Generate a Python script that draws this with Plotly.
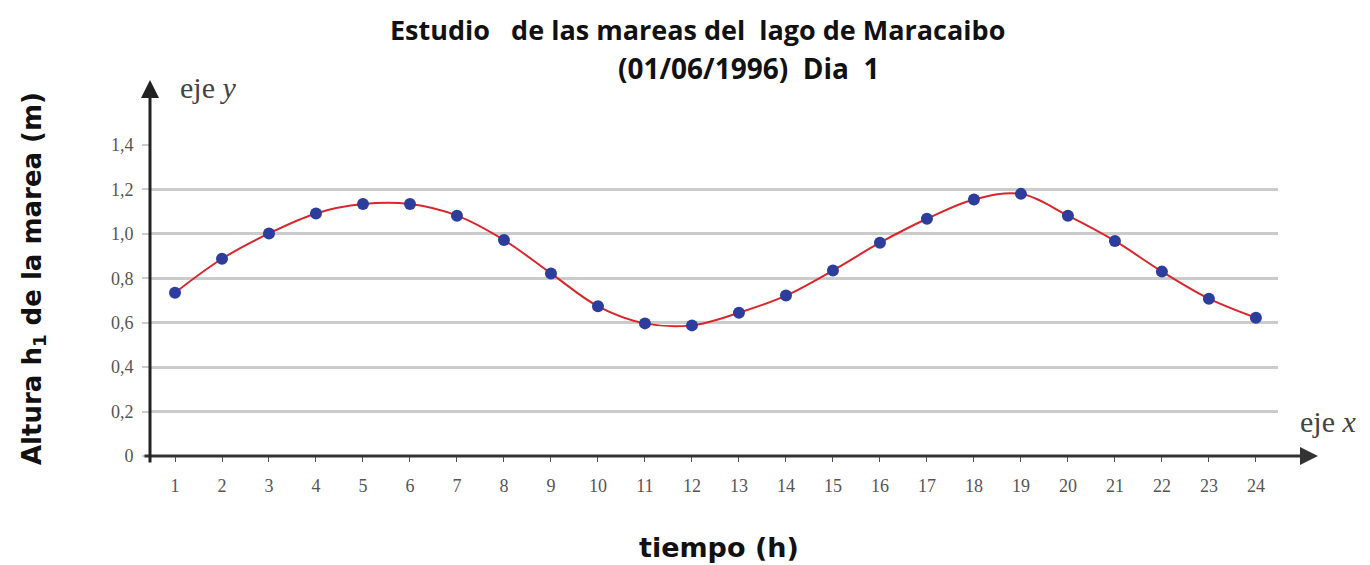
import plotly.graph_objects as go

horas = list(range(1, 25))
altura = [0.735, 0.888, 1.002, 1.092, 1.134, 1.134, 1.082, 0.972, 0.822, 0.674,
          0.597, 0.588, 0.645, 0.722, 0.835, 0.960, 1.068, 1.155, 1.180, 1.082,
          0.968, 0.830, 0.708, 0.622]
y_ticks = [0, 0.2, 0.4, 0.6, 0.8, 1.0, 1.2, 1.4]
y_tick_labels = ["0", "0,2", "0,4", "0,6", "0,8", "1,0", "1,2", "1,4"]

titulo_1 = "Estudio\u00a0\u00a0 de las mareas del\u00a0 lago de Maracaibo"
titulo_2 = "(01/06/1996)\u00a0 Dia\u00a0 1"
label_y = "Altura h<sub>1</sub> de la marea (m)"
label_x = "tiempo (h)"

W, H = 1370, 565
L, R, T, B = 150, 92, 145, 109

fig = go.Figure()
fig.add_trace(go.Scatter(
    x=horas, y=altura, mode="lines",
    line=dict(color="#d8262c", width=2, shape="spline", smoothing=1),
    hoverinfo="skip", showlegend=False))
fig.add_trace(go.Scatter(
    x=horas, y=altura, mode="markers",
    marker=dict(color="#2c3d9c", size=12),
    showlegend=False, cliponaxis=False))

serif = "Liberation Serif, serif"
sans_b = "DejaVu Sans, sans-serif"
title_font = "Open Sans, sans-serif"

fig.update_layout(
    width=W, height=H,
    margin=dict(l=L, r=R, t=T, b=B),
    plot_bgcolor="white", paper_bgcolor="white",
    separators=",.",
    xaxis=dict(range=[0.468, 24.47], tickvals=horas, showgrid=False,
               zeroline=False, showline=False, ticks="outside", ticklen=5,
               tickwidth=1, tickcolor="#555",
               tickfont=dict(family=serif, size=18, color="#555"),
               ticklabelstandoff=8, fixedrange=True),
    yaxis=dict(range=[0, 1.4], tickvals=y_ticks, ticktext=y_tick_labels,
               showgrid=True, gridcolor="#cbcbcb", gridwidth=2.5,
               zeroline=False, showline=False, ticks="outside", ticklen=7,
               tickwidth=2, tickcolor="#cbcbcb",
               tickfont=dict(family=serif, size=18, color="#555"),
               ticklabelstandoff=5, fixedrange=True),
)

pw, ph = W - L - R, H - T - B
ann = []
# title
ann.append(dict(text="<b>" + titulo_1 + "</b>", xref="paper", yref="paper",
                x=(697 - L) / pw, y=1 + (T - 30) / ph,
                showarrow=False, xanchor="center", yanchor="middle",
                font=dict(family=title_font, size=27, color="#111")))
ann.append(dict(text="<b>" + titulo_2 + "</b>", xref="paper", yref="paper",
                x=(748 - L) / pw, y=1 + (T - 68) / ph,
                showarrow=False, xanchor="center", yanchor="middle",
                font=dict(family=title_font, size=28, color="#111")))
# axis arrows
ann.append(dict(text="", xref="paper", yref="y", x=(1318 - L) / pw, y=0,
                ax=-(1318 - 143), ay=0, showarrow=True, arrowhead=2,
                arrowsize=1.2, arrowwidth=3, arrowcolor="#333"))
ann.append(dict(text="", xref="paper", yref="paper", x=0,
                y=1 + (T - 80) / ph,
                ax=0, ay=(464 - 80), showarrow=True, arrowhead=2,
                arrowsize=1.2, arrowwidth=3, arrowcolor="#222"))
# axis names
ann.append(dict(text="eje <i>y</i>", xref="paper", yref="paper",
                x=(178 - L) / pw, y=1 + (T - 87) / ph,
                showarrow=False, xanchor="left", yanchor="middle",
                font=dict(family=serif, size=30, color="#444")))
ann.append(dict(text="eje <i>x</i>", xref="paper", yref="paper",
                x=(1298 - L) / pw, y=(H - B - 421) / ph,
                showarrow=False, xanchor="left", yanchor="middle",
                font=dict(family=serif, size=30, color="#444")))
# axis titles
ann.append(dict(text="<b>" + label_y + "</b>", xref="paper", yref="paper",
                x=(33 - L) / pw, y=(H - B - 279) / ph,
                showarrow=False, textangle=-90, xanchor="center", yanchor="middle",
                font=dict(family=sans_b, size=26, color="#111")))
ann.append(dict(text="<b>" + label_x + "</b>", xref="paper", yref="paper",
                x=(719 - L) / pw, y=(H - B - 547) / ph,
                showarrow=False, xanchor="center", yanchor="middle",
                font=dict(family=sans_b, size=27, color="#111")))
fig.update_layout(annotations=ann)

fig.write_html("out.html", config={"displayModeBar": False},
               post_script="document.body.style.margin='0';document.body.style.padding='0';")
